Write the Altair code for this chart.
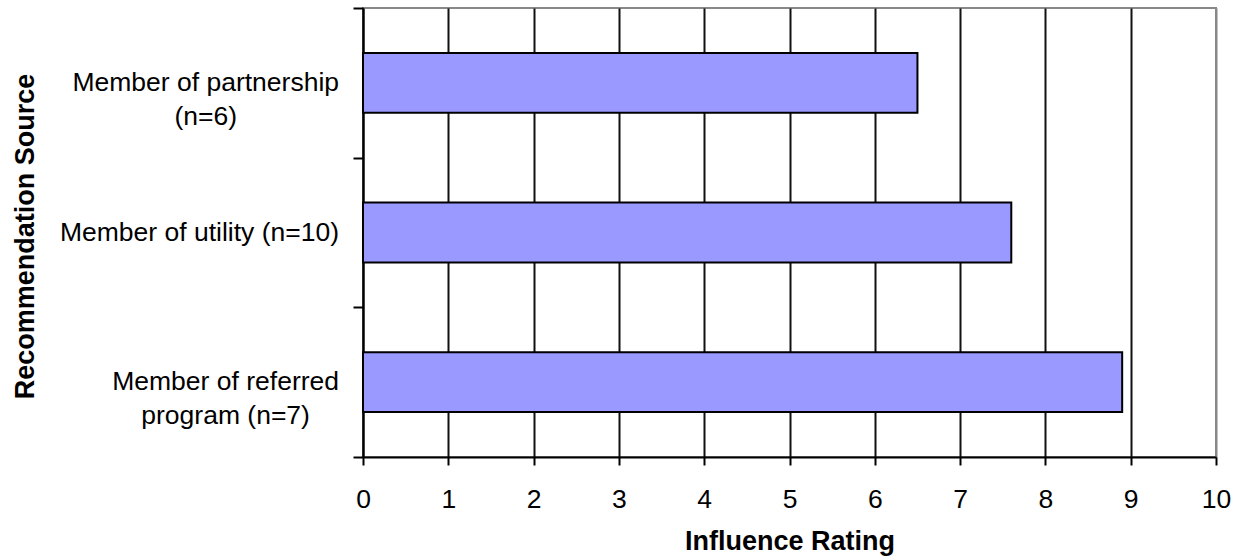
import altair as alt
import pandas as pd

# Recommendation sources (line breaks mark where the axis label wraps)
sources = [
    "Member of partnership\n(n=6)",
    "Member of utility (n=10)",
    "Member of referred\nprogram (n=7)",
]
ratings = [6.5, 7.6, 8.9]
x_ticks = list(range(0, 11))

FONT = "Liberation Sans"
LABEL_SIZE = 26.5
TITLE_SIZE = 27
PLOT_W, PLOT_H = 853, 449
LABEL_GAP = 24  # from the y axis line to the right edge of the category labels

# Arial advance widths (per 1000 em) for the characters used in the labels.
ADV = {
    "M": 833, "e": 556, "m": 833, "b": 556, "r": 333, " ": 278, "o": 556,
    "f": 278, "p": 556, "a": 556, "t": 278, "n": 556, "s": 500, "h": 556,
    "i": 222, "(": 333, ")": 333, "=": 584, "u": 556, "l": 222, "y": 500,
    "d": 556, "g": 556, "c": 500,
}


def block_width(label):
    """Pixel width of the widest line of a wrapped label."""
    return max(
        sum(ADV.get(ch, 556) for ch in line) / 1000.0 * LABEL_SIZE
        for line in label.split("\n")
    )


df = pd.DataFrame({"source": sources, "rating": ratings})
# Category labels are right-aligned as blocks, with each line centred in its block.
df["label_x"] = [-(LABEL_GAP + block_width(s) / 2) for s in sources]

y_enc = alt.Y(
    "source:N",
    sort=sources,
    scale=alt.Scale(paddingInner=0, paddingOuter=0),
    axis=alt.Axis(
        title="Recommendation Source",
        titleFont=FONT,
        titleFontSize=TITLE_SIZE,
        titleFontWeight="bold",
        titleColor="black",
        titleAngle=270,
        titleAlign="center",
        titleBaseline="middle",
        titleX=-338,
        titleY=228,
        labels=False,
        tickBand="extent",
        tickSize=10,
        tickColor="black",
        tickWidth=2,
        domainColor="black",
        domainWidth=2,
        grid=False,
    ),
)

bars = alt.Chart(df).mark_bar(
    color="#9999FF",
    stroke="black",
    strokeWidth=2,
    height=alt.RelativeBandSize(0.4),
).encode(
    x=alt.X(
        "rating:Q",
        scale=alt.Scale(domain=[0, 10], nice=False),
        axis=alt.Axis(
            values=x_ticks,
            title="Influence Rating",
            titleFont=FONT,
            titleFontSize=TITLE_SIZE,
            titleFontWeight="bold",
            titleColor="black",
            titleBaseline="alphabetic",
            titleY=92,
            labelFont=FONT,
            labelFontSize=LABEL_SIZE,
            labelColor="black",
            labelBaseline="alphabetic",
            labelPadding=42,
            labelFlush=False,
            tickSize=8,
            tickColor="black",
            tickWidth=2,
            domainColor="black",
            domainWidth=2,
            grid=True,
            gridColor={
                "condition": {"test": "datum.value >= 10", "value": "#888888"},
                "value": "#111111",
            },
            gridWidth=2,
        ),
    ),
    y=y_enc,
)

labels = alt.Chart(df).transform_calculate(
    lines="split(datum.source, '\\n')"
).mark_text(
    align="center",
    baseline="middle",
    font=FONT,
    fontSize=LABEL_SIZE,
    lineHeight=34,
    color="black",
).encode(
    x=alt.X("label_x:Q", scale=None, axis=None),
    y=y_enc,
    text=alt.Text("lines:N"),
)

chart = alt.layer(bars, labels).properties(
    width=PLOT_W,
    height=PLOT_H,
    padding={"left": 363, "top": 8, "right": 23, "bottom": 101},
    autosize=alt.AutoSizeParams(type="none"),
    background="white",
).configure_view(
    stroke="#888888", strokeWidth=2
)

chart.save("out.html", embed_options={"renderer": "svg", "actions": False})
